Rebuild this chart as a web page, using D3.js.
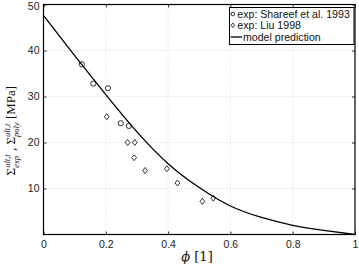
<!DOCTYPE html>
<html>
<head>
<meta charset="utf-8">
<script src="https://cdn.jsdelivr.net/npm/d3@7"></script>
<style>
  body { margin: 0; background: #fff; }
  svg { display: block; }
</style>
</head>
<body>
<svg id="chart"></svg>
<script>
// Data
const shareefPhi = [0.123, 0.160, 0.207, 0.248, 0.274];
const shareefSigma = [37.0, 32.8, 31.8, 24.2, 23.6];

const liuPhi = [0.203, 0.270, 0.293, 0.291, 0.326, 0.396, 0.430, 0.510, 0.545];
const liuSigma = [25.6, 20.0, 20.0, 16.7, 13.9, 14.3, 11.2, 7.2, 7.9];

const modelPhi = [0, 0.1, 0.2, 0.3, 0.4, 0.5, 0.6, 0.7, 0.8, 0.9, 1.0];
const modelSigma = [47.6, 38.9, 30.4, 22.3, 15.4, 10.2, 6.2, 3.7, 2.0, 0.9, 0];

const xTicks = [0, 0.2, 0.4, 0.6, 0.8, 1];
const yTicks = [10, 20, 30, 40, 50];
const legendLabels = ["exp: Shareef et al. 1993", "exp: Liu 1998", "model prediction"];

// Chart Dimensions
const width = 359;
const height = 266;
const plot = { left: 43.5, right: 355, top: 4.5, bottom: 234.5 };

const svg = d3.select("#chart").attr("width", width).attr("height", height);

// Scales
const xScale = d3.scaleLinear().domain([0, 1]).range([plot.left, plot.right]);
const yScale = d3.scaleLinear().domain([0, 50]).range([plot.bottom, plot.top]);

// Grid
const grid = svg.append("g").attr("stroke", "#c8c8c8").attr("stroke-width", 0.7)
  .attr("stroke-dasharray", "1,2");
grid.selectAll(".gx").data(xTicks.filter((d) => d > 0 && d < 1)).enter()
  .append("line")
  .attr("x1", (d) => xScale(d)).attr("x2", (d) => xScale(d))
  .attr("y1", plot.top).attr("y2", plot.bottom);
grid.selectAll(".gy").data(yTicks.filter((d) => d < 50)).enter()
  .append("line")
  .attr("y1", (d) => yScale(d)).attr("y2", (d) => yScale(d))
  .attr("x1", plot.left).attr("x2", plot.right);

// Axes (ticks point inward, matlab style)
const xAxis = d3.axisBottom(xScale).tickValues(xTicks).tickSize(-3).tickPadding(6)
  .tickFormat(d3.format("~g"));
const yAxis = d3.axisLeft(yScale).tickValues(yTicks).tickSize(-3).tickPadding(4);

svg.append("g").attr("transform", `translate(0, ${plot.bottom})`).call(xAxis);
const gy = svg.append("g").attr("transform", `translate(${plot.left}, 0)`).call(yAxis);
svg.append("g").attr("transform", `translate(0, ${plot.top})`)
  .call(d3.axisTop(xScale).tickValues(xTicks).tickSize(-3).tickFormat(""));
svg.append("g").attr("transform", `translate(${plot.right}, 0)`)
  .call(d3.axisRight(yScale).tickValues(yTicks).tickSize(-3).tickFormat(""));

svg.selectAll(".domain").remove();
svg.selectAll(".tick line").attr("stroke", "#000").attr("stroke-width", 0.8);
svg.selectAll(".tick text")
  .attr("font-family", "Liberation Sans, Arial, sans-serif")
  .attr("font-size", 10.5)
  .attr("fill", "#222");
// keep the top label inside the page
gy.selectAll(".tick text").filter((d) => d === 50).attr("dy", "0.45em");

// Frame
svg.append("rect")
  .attr("x", plot.left).attr("y", plot.top)
  .attr("width", plot.right - plot.left).attr("height", plot.bottom - plot.top)
  .attr("fill", "none").attr("stroke", "#000").attr("stroke-width", 1.2);

// Model line
const model = modelPhi.map((p, i) => [p, modelSigma[i]]);
svg.append("path")
  .datum(model)
  .attr("fill", "none")
  .attr("stroke", "#000")
  .attr("stroke-width", 1.3)
  .attr("d", d3.line().x((d) => xScale(d[0])).y((d) => yScale(d[1])).curve(d3.curveNatural));

// Markers
const diamond = (cx, cy) => `M${cx},${cy - 3}L${cx + 2.4},${cy}L${cx},${cy + 3}L${cx - 2.4},${cy}Z`;

svg.selectAll(".shareef")
  .data(shareefPhi.map((p, i) => [p, shareefSigma[i]]))
  .enter()
  .append("circle")
  .attr("cx", (d) => xScale(d[0]))
  .attr("cy", (d) => yScale(d[1]))
  .attr("r", 2.6)
  .attr("fill", "none")
  .attr("stroke", "#000")
  .attr("stroke-width", 0.8);

svg.selectAll(".liu")
  .data(liuPhi.map((p, i) => [p, liuSigma[i]]))
  .enter()
  .append("path")
  .attr("d", (d) => diamond(xScale(d[0]), yScale(d[1])))
  .attr("fill", "none")
  .attr("stroke", "#000")
  .attr("stroke-width", 0.8);

// Legend
const lg = svg.append("g");
lg.append("clipPath").attr("id", "lgclip")
  .append("rect").attr("x", 229.5).attr("y", 7.5).attr("width", 124.5).attr("height", 37);
lg.append("rect")
  .attr("x", 229.5).attr("y", 7.5).attr("width", 124.5).attr("height", 37)
  .attr("fill", "#fff").attr("stroke", "#000").attr("stroke-width", 1);
const rowY = [14, 25.3, 37];
lg.append("circle").attr("cx", 232.8).attr("cy", rowY[0]).attr("r", 1.8)
  .attr("fill", "none").attr("stroke", "#000").attr("stroke-width", 0.8);
lg.append("path").attr("d", `M232.8,${rowY[1] - 2.3}L234.6,${rowY[1]}L232.8,${rowY[1] + 2.3}L231,${rowY[1]}Z`)
  .attr("fill", "none").attr("stroke", "#000").attr("stroke-width", 0.8);
lg.append("line").attr("x1", 230.5).attr("x2", 242).attr("y1", rowY[2]).attr("y2", rowY[2])
  .attr("stroke", "#000").attr("stroke-width", 1.3);
lg.selectAll(".lt")
  .data(legendLabels)
  .enter()
  .append("text")
  .attr("clip-path", "url(#lgclip)")
  .attr("x", (d, i) => (i < 2 ? 237.3 : 243))
  .attr("y", (d, i) => rowY[i])
  .attr("dy", "0.35em")
  .attr("font-family", "Liberation Sans, Arial, sans-serif")
  .attr("font-size", 10.6)
  .attr("fill", "#111")
  .text((d) => d);

// Axis labels
svg.append("text")
  .attr("x", 197)
  .attr("y", 261)
  .attr("text-anchor", "middle")
  .attr("font-family", "DejaVu Serif, Liberation Serif, serif")
  .attr("font-size", 13)
  .attr("fill", "#111")
  .html('<tspan font-style="italic">ϕ</tspan> [1]');

const yl = svg.append("text")
  .attr("transform", "translate(14, 118) rotate(-90)")
  .attr("font-family", "Liberation Serif, Times New Roman, serif")
  .attr("font-size", 13)
  .attr("fill", "#111");

function supSub(sup, sub) {
  const s = yl.append("tspan").attr("font-size", 8.5).attr("font-style", "italic")
    .attr("dy", -5.5).text(sup);
  const w = s.node().getComputedTextLength();
  const b = yl.append("tspan").attr("font-size", 8.5).attr("font-style", "italic")
    .attr("dx", -w).attr("dy", 9).text(sub);
  const wb = b.node().getComputedTextLength();
  return Math.max(0, w - wb);
}
yl.append("tspan").text("Σ");
let extra = supSub("ult,t", "exp");
yl.append("tspan").attr("dx", extra).attr("dy", -3.5).text(" , Σ");
extra = supSub("ult,t", "poly");
yl.append("tspan").attr("dx", extra).attr("dy", -3.5).text(" [MPa]");

// center the rotated label on the plot
const len = yl.node().getComputedTextLength();
yl.attr("transform", `translate(15, ${118 + len / 2}) rotate(-90)`);
</script>
</body>
</html>
